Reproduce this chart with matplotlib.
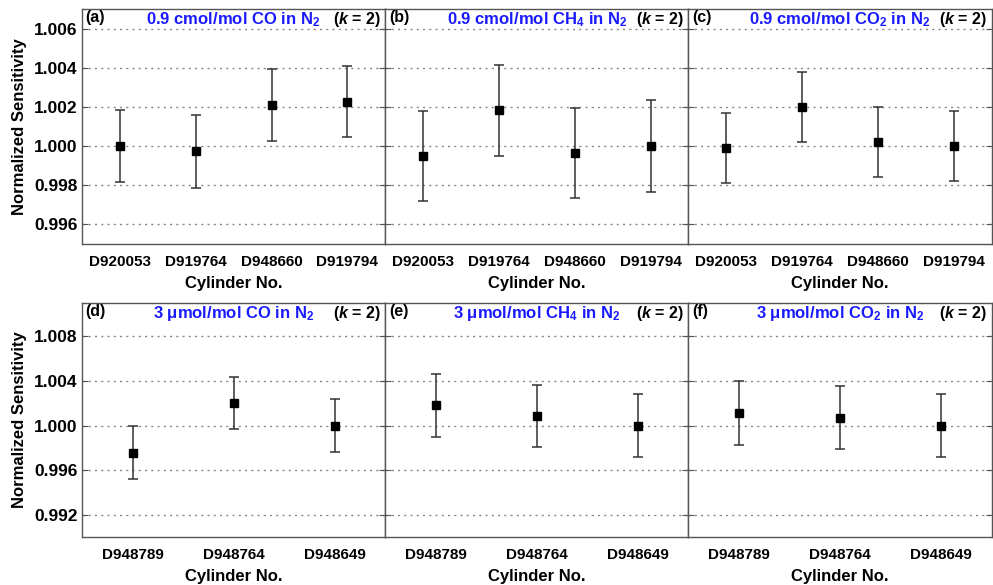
import matplotlib
matplotlib.use('Agg')
import matplotlib.pyplot as plt

plt.rcParams['font.family'] = ['Liberation Sans', 'DejaVu Sans']
plt.rcParams['font.weight'] = 'bold'
plt.rcParams['mathtext.fontset'] = 'custom'
plt.rcParams['mathtext.rm'] = 'Liberation Sans:bold'
plt.rcParams['mathtext.it'] = 'Liberation Sans:italic:bold'
plt.rcParams['mathtext.bf'] = 'Liberation Sans:bold'

# cylinders
cyl_top = ['D920053', 'D919764', 'D948660', 'D919794']
cyl_bot = ['D948789', 'D948764', 'D948649']

# normalized sensitivity and expanded uncertainty (k = 2)
co_09 = [1.0000, 0.99973, 1.0021, 1.00227]
co_09_err = [0.00182, 0.00185, 0.00183, 0.00183]
ch4_09 = [0.99948, 1.00183, 0.99966, 1.0000]
ch4_09_err = [0.00229, 0.00233, 0.0023, 0.00235]
co2_09 = [0.9999, 1.0020, 1.0002, 1.0000]
co2_09_err = [0.0018, 0.0018, 0.0018, 0.0018]

co_3 = [0.99758, 1.0020, 1.0000]
co_3_err = [0.00235, 0.00235, 0.00236]
ch4_3 = [1.00182, 1.00084, 1.0000]
ch4_3_err = [0.00282, 0.0028, 0.00282]
co2_3 = [1.0011, 1.00072, 1.0000]
co2_3_err = [0.00288, 0.00285, 0.00279]

labels = ['(a)', '(b)', '(c)', '(d)', '(e)', '(f)']
titles = ['0.9 cmol/mol CO in N$_2$', '0.9 cmol/mol CH$_4$ in N$_2$',
          '0.9 cmol/mol CO$_2$ in N$_2$', '3 \u03bcmol/mol CO in N$_2$',
          '3 \u03bcmol/mol CH$_4$ in N$_2$', '3 \u03bcmol/mol CO$_2$ in N$_2$']

panels = [(cyl_top, co_09, co_09_err), (cyl_top, ch4_09, ch4_09_err),
          (cyl_top, co2_09, co2_09_err), (cyl_bot, co_3, co_3_err),
          (cyl_bot, ch4_3, ch4_3_err), (cyl_bot, co2_3, co2_3_err)]

fig = plt.figure(figsize=(9.93, 5.85), dpi=100)
W, H = 993, 585
left, width = 82, 303.2
rows = [(9, 244), (303, 537)]

for i, (cyl, vals, errs) in enumerate(panels):
    r, c = divmod(i, 3)
    top, bot = rows[r]
    ax = fig.add_axes([(left + c * width) / W, 1 - bot / H, width / W, (bot - top) / H])
    x = list(range(1, len(cyl) + 1))
    ax.errorbar(x, vals, yerr=errs, fmt='s', color='black', ecolor='#333333',
                markersize=6.2, elinewidth=1.1, capsize=3.5, capthick=1.1, zorder=3)
    ax.set_xlim(0.5, len(cyl) + 0.5)
    ax.set_xticks(x)
    ax.set_xticklabels(cyl, fontsize=11, fontweight='bold')
    ax.tick_params(axis='x', length=0, pad=8)
    if r == 0:
        ax.set_ylim(0.995, 1.007)
        ax.set_yticks([0.996, 0.998, 1.000, 1.002, 1.004, 1.006])
    else:
        ax.set_ylim(0.990, 1.011)
        ax.set_yticks([0.992, 0.996, 1.000, 1.004, 1.008])
    ax.yaxis.set_major_formatter(matplotlib.ticker.FormatStrFormatter('%.3f'))
    ax.tick_params(axis='y', direction='in', left=True, right=True, length=4,
                   color='#555555', labelsize=12.5, pad=3)
    if c != 0:
        ax.tick_params(axis='y', labelleft=False)
    else:
        ax.set_ylabel('Normalized Sensitivity', fontsize=12, fontweight='bold', labelpad=5)
    ax.grid(axis='y', linestyle=(0, (1.5, 3)), color='#888888', linewidth=1.0)
    for s in ax.spines.values():
        s.set_color('#555555')
        s.set_linewidth(1.0)
    ax.set_xlabel('Cylinder No.', fontsize=12, fontweight='bold', labelpad=5)
    ax.text(0.012, 0.995, labels[i], transform=ax.transAxes, ha='left', va='top',
            fontsize=11.5, fontweight='bold')
    ax.text(0.5, 0.995, titles[i], transform=ax.transAxes, ha='center', va='top',
            fontsize=12, fontweight='bold', color='#1a1aff')
    ax.text(0.985, 0.995, '($k$ = 2)', transform=ax.transAxes, ha='right', va='top',
            fontsize=11.5, fontweight='bold')

fig.savefig('out.png', dpi=100)
